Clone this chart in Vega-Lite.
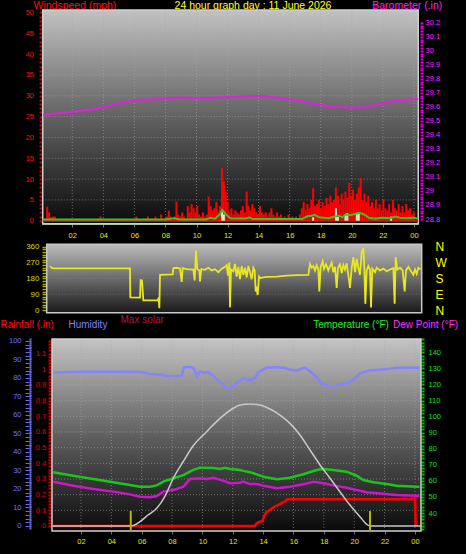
{
"$schema":"https://vega.github.io/schema/vega-lite/v6.json",
"width":466,"height":554,"autosize":{"type":"none"},"padding":0,"background":"#000000",
"config":{"view":{"stroke":null},"axis":{"labelFont":"Liberation Sans","titleFont":"Liberation Sans","grid":false,"domain":false,"labelOverlap":false,"labelFlush":false,"titleFontWeight":"normal","titleAngle":0}},
"resolve":{"scale":{"x":"independent","y":"independent"}},
"layer":[
{"layer":[
 {"data":{"values":[{}]},"mark":{"type":"rect","fill":{"gradient":"linear","x1":0,"y1":0,"x2":0,"y2":1,"stops":[{"offset":0,"color":"#c2c2c2"},{"offset":0.5,"color":"#626262"},{"offset":1,"color":"#0a0a0a"}]},"stroke":"#d0d0d0","strokeWidth":1.5},
  "encoding":{"x":{"datum":0.097,"type":"quantitative","scale":{"domain":[-2.653,27.353],"nice":false,"zero":false},"axis":null},"x2":{"datum":24.28},
   "y":{"datum":-0.79,"type":"quantitative","scale":{"domain":[-80.04,53.0],"nice":false,"zero":false},"axis":null},"y2":{"datum":50.6}}},
 {"data":{"values":[{"v":5},{"v":10},{"v":15},{"v":20},{"v":25},{"v":30},{"v":35},{"v":40},{"v":45}]},"mark":{"type":"rule","color":"#a8a8a8","strokeDash":[1,2],"strokeWidth":1,"opacity":0.6},
  "encoding":{"x":{"datum":0.097,"type":"quantitative","scale":{"domain":[-2.653,27.353],"nice":false,"zero":false},"axis":null},"x2":{"datum":24.28},"y":{"field":"v","type":"quantitative","scale":{"domain":[-80.04,53.0],"nice":false,"zero":false},"axis":null}}},
 {"data":{"values":[{"v":2},{"v":4},{"v":6},{"v":8},{"v":10},{"v":12},{"v":14},{"v":16},{"v":18},{"v":20},{"v":22},{"v":24}]},"mark":{"type":"rule","color":"#a8a8a8","strokeDash":[1,2],"strokeWidth":1,"opacity":0.6},
  "encoding":{"x":{"field":"v","type":"quantitative","scale":{"domain":[-2.653,27.353],"nice":false,"zero":false},"axis":null},"y":{"datum":-0.79,"type":"quantitative","scale":{"domain":[-80.04,53.0],"nice":false,"zero":false},"axis":null},"y2":{"datum":50.6}}},
 {"data":{"values":[{}]},"mark":{"type":"rule","color":"#ff0000","strokeWidth":2},
  "encoding":{"x":{"datum":0.1,"type":"quantitative","scale":{"domain":[-2.653,27.353],"nice":false,"zero":false},"axis":null},"x2":{"datum":24.27},"y":{"datum":0,"type":"quantitative","scale":{"domain":[-80.04,53.0],"nice":false,"zero":false},"axis":null}}},
 {"data":{"values":[{}]},"mark":{"type":"rule","color":"#b8e4a8","strokeWidth":1.5},
  "encoding":{"x":{"datum":0.097,"type":"quantitative","scale":{"domain":[-2.653,27.353],"nice":false,"zero":false},"axis":null},"x2":{"datum":24.28},"y":{"datum":-0.72,"type":"quantitative","scale":{"domain":[-80.04,53.0],"nice":false,"zero":false},"axis":null}}}
]},
{"data":{"values":[{"h":0.125,"w":3.4},{"h":0.25,"w":2},{"h":0.375,"w":0.8},{"h":0.5,"w":1},{"h":0.625,"w":1},{"h":0.75,"w":0.3},{"h":3.625,"w":1},{"h":6.0,"w":1},{"h":6.5,"w":0.5},{"h":6.75,"w":1},{"h":7.0,"w":0.5},{"h":7.25,"w":1},{"h":7.625,"w":1.5},{"h":7.875,"w":0.5},{"h":8.0,"w":1},{"h":8.125,"w":2.4},{"h":8.25,"w":1},{"h":8.5,"w":1},{"h":8.625,"w":4.6},{"h":8.75,"w":1.5},{"h":8.875,"w":1},{"h":9.0,"w":2},{"h":9.125,"w":1},{"h":9.25,"w":0.5},{"h":9.375,"w":3.5},{"h":9.5,"w":2},{"h":9.625,"w":4},{"h":9.75,"w":3},{"h":9.875,"w":2},{"h":10.0,"w":3.5},{"h":10.125,"w":1.5},{"h":10.25,"w":1},{"h":10.375,"w":2},{"h":10.5,"w":1},{"h":10.625,"w":1.5},{"h":10.75,"w":5.8},{"h":10.875,"w":3.5},{"h":11.0,"w":2.5},{"h":11.125,"w":3},{"h":11.25,"w":4.5},{"h":11.375,"w":2},{"h":11.5,"w":3.5},{"h":11.625,"w":12.7},{"h":11.75,"w":9.5},{"h":11.875,"w":7},{"h":12.0,"w":4.5},{"h":12.125,"w":2},{"h":12.25,"w":3},{"h":12.375,"w":1.5},{"h":12.5,"w":2.5},{"h":12.625,"w":2},{"h":12.75,"w":1.5},{"h":12.875,"w":2.5},{"h":13.0,"w":3.5},{"h":13.125,"w":2},{"h":13.25,"w":7},{"h":13.375,"w":3.5},{"h":13.5,"w":2.5},{"h":13.625,"w":4},{"h":13.75,"w":3},{"h":13.875,"w":2},{"h":14.0,"w":1.5},{"h":14.125,"w":3.5},{"h":14.25,"w":2},{"h":14.375,"w":1.5},{"h":14.5,"w":2},{"h":14.625,"w":1},{"h":14.75,"w":2},{"h":14.875,"w":3},{"h":15.0,"w":1.5},{"h":15.125,"w":1},{"h":15.25,"w":2},{"h":15.375,"w":1},{"h":15.5,"w":1.5},{"h":15.625,"w":0.5},{"h":15.75,"w":1},{"h":15.875,"w":0.5},{"h":16.0,"w":1.5},{"h":16.125,"w":0.5},{"h":16.25,"w":1},{"h":16.375,"w":0.5},{"h":16.5,"w":1},{"h":16.625,"w":0.5},{"h":16.75,"w":1.5},{"h":16.875,"w":3},{"h":17.0,"w":4.5},{"h":17.125,"w":2.5},{"h":17.25,"w":4},{"h":17.375,"w":3},{"h":17.5,"w":5},{"h":17.625,"w":7.8},{"h":17.75,"w":3.5},{"h":17.875,"w":4},{"h":18.0,"w":5},{"h":18.125,"w":3},{"h":18.25,"w":4.5},{"h":18.375,"w":3.5},{"h":18.5,"w":5.5},{"h":18.625,"w":4},{"h":18.75,"w":6},{"h":18.875,"w":4.5},{"h":19.0,"w":5},{"h":19.125,"w":8},{"h":19.25,"w":6},{"h":19.375,"w":4},{"h":19.5,"w":6.5},{"h":19.625,"w":5},{"h":19.75,"w":7},{"h":19.875,"w":5.5},{"h":20.0,"w":9.1},{"h":20.125,"w":6},{"h":20.25,"w":7.5},{"h":20.375,"w":5},{"h":20.5,"w":6.5},{"h":20.625,"w":8},{"h":20.75,"w":10.3},{"h":20.875,"w":5},{"h":21.0,"w":6.5},{"h":21.125,"w":4.5},{"h":21.25,"w":6},{"h":21.375,"w":3.5},{"h":21.5,"w":4.5},{"h":21.625,"w":3},{"h":21.75,"w":5},{"h":21.875,"w":3},{"h":22.0,"w":4},{"h":22.125,"w":2.5},{"h":22.25,"w":5},{"h":22.375,"w":3},{"h":22.5,"w":2.5},{"h":22.625,"w":4},{"h":22.75,"w":2},{"h":22.875,"w":5},{"h":23.0,"w":3},{"h":23.125,"w":2.5},{"h":23.25,"w":4},{"h":23.375,"w":2},{"h":23.5,"w":3.5},{"h":23.625,"w":2},{"h":23.75,"w":4},{"h":23.875,"w":2.5},{"h":24.0,"w":3},{"h":24.125,"w":1.5},{"h":24.25,"w":2}]},
 "mark":{"type":"bar","color":"#ff0000","width":2},
 "encoding":{"x":{"field":"h","type":"quantitative","scale":{"domain":[-2.653,27.353],"nice":false,"zero":false},"axis":null},"y":{"field":"w","type":"quantitative","scale":{"domain":[-80.04,53.0],"nice":false,"zero":false},"axis":null}}},
{"data":{"values":[{"h":11.625,"w":2.2},{"h":11.75,"w":1.5},{"h":17.625,"w":0.8},{"h":19.125,"w":3.0},{"h":19.25,"w":1.2},{"h":19.75,"w":1.5},{"h":19.875,"w":1.8},{"h":20.5,"w":1.9},{"h":20.625,"w":1.6},{"h":22.75,"w":1.0}]},
 "mark":{"type":"bar","color":"#dfeed6","width":2},
 "encoding":{"x":{"field":"h","type":"quantitative","scale":{"domain":[-2.653,27.353],"nice":false,"zero":false},"axis":null},"y":{"field":"w","type":"quantitative","scale":{"domain":[-80.04,53.0],"nice":false,"zero":false},"axis":null}}},
{"data":{"values":[{"h":0.1,"g":0.3},{"h":8.0,"g":0.3},{"h":8.6,"g":0.6},{"h":8.9,"g":0.3},{"h":10.6,"g":0.3},{"h":10.9,"g":0.7},{"h":11.2,"g":0.5},{"h":11.5,"g":1.5},{"h":11.65,"g":2.6},{"h":11.9,"g":1.5},{"h":12.2,"g":0.5},{"h":13.2,"g":0.5},{"h":13.4,"g":0.8},{"h":13.6,"g":0.4},{"h":16.8,"g":0.4},{"h":17.1,"g":1.0},{"h":17.4,"g":1.2},{"h":17.6,"g":1.4},{"h":17.9,"g":0.8},{"h":18.5,"g":0.6},{"h":18.9,"g":1.0},{"h":19.2,"g":1.2},{"h":19.4,"g":0.8},{"h":19.6,"g":1.5},{"h":19.9,"g":1.3},{"h":20.2,"g":1.6},{"h":20.5,"g":1.9},{"h":20.8,"g":1.5},{"h":21.1,"g":0.7},{"h":21.5,"g":0.5},{"h":22.0,"g":0.7},{"h":22.5,"g":0.6},{"h":22.8,"g":1.0},{"h":23.1,"g":0.7},{"h":23.5,"g":0.6},{"h":24.0,"g":0.7},{"h":24.25,"g":0.5}]},
 "mark":{"type":"line","color":"#20d020","strokeWidth":2},
 "encoding":{
  "x":{"field":"h","type":"quantitative","scale":{"domain":[-2.653,27.353],"nice":false,"zero":false},"axis":{"orient":"bottom","offset":-330,"values":[2,4,6,8,10,12,14,16,18,20,22,24],"labelExpr":"datum.value == 24 ? '00' : (datum.value < 10 ? '0' + datum.value : '' + datum.value)","title":null,"tickSize":3,"tickColor":"#707070","labelColor":"#e6e600","labelFontSize":7.5,"labelPadding":4.5}},
  "y":{"field":"g","type":"quantitative","scale":{"domain":[-80.04,53.0],"nice":false,"zero":false},"axis":{"orient":"left","offset":-42,"values":[0,1,2,3,4,5,6,7,8,9,10,11,12,13,14,15,16,17,18,19,20,21,22,23,24,25,26,27,28,29,30,31,32,33,34,35,36,37,38,39,40,41,42,43,44,45,46,47,48,49,50],"labelExpr":"datum.value % 5 === 0 ? datum.label : ''","tickSize":3,"tickWidth":2,"tickColor":"#c00000","labelColor":"#ff1010","labelFontSize":7.5,"labelPadding":5.5,"title":"Windspeed (mph)","titleColor":"#ff1010","titleFontSize":10.5,"titleAngle":0,"titleAlign":"left","titleBaseline":"top","titleX":-9,"titleY":0.5}}}},
{"data":{"values":[{"h":0.116,"b":29.542},{"h":1.211,"b":29.556},{"h":2.498,"b":29.570},{"h":3.786,"b":29.592},{"h":5.074,"b":29.627},{"h":6.362,"b":29.649},{"h":7.650,"b":29.656},{"h":8.937,"b":29.667},{"h":10.225,"b":29.663},{"h":11.513,"b":29.667},{"h":12.801,"b":29.674},{"h":14.089,"b":29.677},{"h":15.377,"b":29.663},{"h":16.665,"b":29.642},{"h":17.953,"b":29.613},{"h":19.240,"b":29.599},{"h":20.528,"b":29.595},{"h":21.816,"b":29.620},{"h":23.104,"b":29.645},{"h":24.266,"b":29.656}]},
 "mark":{"type":"line","color":"#e020e0","strokeWidth":2,"interpolate":"monotone"},
 "encoding":{
  "x":{"field":"h","type":"quantitative","scale":{"domain":[-2.653,27.353],"nice":false,"zero":false},"axis":{"orient":"top","offset":0,"labels":false,"ticks":false,"title":"24 hour graph day : 11 June 2026","titleColor":"#ffff20","titleFontSize":10.5,"titleAngle":0,"titleAlign":"center","titleBaseline":"top","titleX":252.5,"titleY":0.5}},
  "y":{"field":"b","type":"quantitative","scale":{"domain":[26.411,30.362],"nice":false,"zero":false},"axis":{"orient":"right","offset":-46,"values":[28.8,28.82,28.84,28.86,28.88,28.9,28.92,28.94,28.96,28.98,29,29.02,29.04,29.06,29.08,29.1,29.12,29.14,29.16,29.18,29.2,29.22,29.24,29.26,29.28,29.3,29.32,29.34,29.36,29.38,29.4,29.42,29.44,29.46,29.48,29.5,29.52,29.54,29.56,29.58,29.6,29.62,29.64,29.66,29.68,29.7,29.72,29.74,29.76,29.78,29.8,29.82,29.84,29.86,29.88,29.9,29.92,29.94,29.96,29.98,30,30.02,30.04,30.06,30.08,30.1,30.12,30.14,30.16,30.18,30.2],"labelExpr":"abs(datum.value*10 - round(datum.value*10)) < 0.01 ? toString(round(datum.value*10)/10) : ''","tickSize":3,"tickWidth":2,"tickColor":"#e000e0","labelColor":"#ff20ff","labelFontSize":7.5,"labelPadding":2,"title":"Barometer (.in)","titleColor":"#ff20ff","titleFontSize":10.5,"titleAngle":0,"titleAlign":"left","titleBaseline":"top","titleX":-48.3,"titleY":0.5}}}},
{"layer":[
 {"data":{"values":[{}]},"mark":{"type":"rect","fill":{"gradient":"linear","x1":0,"y1":0,"x2":0,"y2":1,"stops":[{"offset":0,"color":"#bcbcbc"},{"offset":1,"color":"#1a1a1a"}]},"stroke":"#c8c8c8","strokeWidth":1.5},
  "encoding":{"x":{"datum":0.354,"type":"quantitative","scale":{"domain":[-2.653,27.353],"nice":false,"zero":false},"axis":null},"x2":{"datum":24.5},
   "y":{"datum":-15.3,"type":"quantitative","scale":{"domain":[-1386.36,1761.36],"nice":false,"zero":false},"axis":null},"y2":{"datum":373.3}}},
 {"data":{"values":[{"v":90},{"v":180},{"v":270}]},"mark":{"type":"rule","color":"#909090","strokeDash":[1,2],"opacity":0.5},
  "encoding":{"x":{"datum":0.354,"type":"quantitative","scale":{"domain":[-2.653,27.353],"nice":false,"zero":false},"axis":null},"x2":{"datum":24.5},"y":{"field":"v","type":"quantitative","scale":{"domain":[-1386.36,1761.36],"nice":false,"zero":false},"axis":null}}}
]},
{"resolve":{"axis":{"y":"independent"}},
 "data":{"values":[{"h":0.567,"d":250},{"h":0.674,"d":240},{"h":0.781,"d":237},{"h":0.996,"d":237},{"h":5.718,"d":237},{"h":5.739,"d":72},{"h":6.362,"d":70},{"h":6.405,"d":170},{"h":6.491,"d":168},{"h":6.576,"d":55},{"h":7.521,"d":55},{"h":7.564,"d":72},{"h":7.607,"d":10},{"h":7.650,"d":200},{"h":8.466,"d":202},{"h":8.508,"d":238},{"h":8.723,"d":240},{"h":8.937,"d":236},{"h":9.045,"d":160},{"h":9.109,"d":238},{"h":9.367,"d":232},{"h":9.796,"d":230},{"h":9.882,"d":168},{"h":9.968,"d":338},{"h":10.053,"d":232},{"h":10.182,"d":225},{"h":10.225,"d":162},{"h":10.311,"d":232},{"h":10.547,"d":228},{"h":10.762,"d":240},{"h":10.977,"d":225},{"h":11.191,"d":232},{"h":11.406,"d":215},{"h":11.621,"d":235},{"h":11.835,"d":245},{"h":11.943,"d":255},{"h":12.028,"d":195},{"h":12.114,"d":270},{"h":12.157,"d":15},{"h":12.222,"d":230},{"h":12.372,"d":220},{"h":12.479,"d":262},{"h":12.587,"d":190},{"h":12.694,"d":245},{"h":12.801,"d":175},{"h":12.909,"d":250},{"h":13.016,"d":200},{"h":13.123,"d":240},{"h":13.231,"d":185},{"h":13.338,"d":250},{"h":13.445,"d":215},{"h":13.553,"d":175},{"h":13.660,"d":240},{"h":13.746,"d":225},{"h":13.810,"d":105},{"h":13.874,"d":120},{"h":13.939,"d":85},{"h":14.025,"d":190},{"h":14.089,"d":182},{"h":14.303,"d":185},{"h":14.518,"d":188},{"h":15.162,"d":190},{"h":15.806,"d":195},{"h":16.450,"d":198},{"h":17.201,"d":200},{"h":17.309,"d":262},{"h":17.416,"d":240},{"h":17.523,"d":250},{"h":17.630,"d":225},{"h":17.738,"d":255},{"h":17.845,"d":230},{"h":17.910,"d":105},{"h":17.995,"d":245},{"h":18.124,"d":278},{"h":18.210,"d":235},{"h":18.339,"d":260},{"h":18.489,"d":225},{"h":18.596,"d":250},{"h":18.704,"d":270},{"h":18.811,"d":215},{"h":18.918,"d":245},{"h":19.026,"d":125},{"h":19.111,"d":240},{"h":19.240,"d":260},{"h":19.348,"d":210},{"h":19.455,"d":255},{"h":19.562,"d":230},{"h":19.670,"d":265},{"h":19.777,"d":200},{"h":19.884,"d":125},{"h":19.992,"d":240},{"h":20.099,"d":300},{"h":20.206,"d":215},{"h":20.314,"d":290},{"h":20.421,"d":240},{"h":20.528,"d":200},{"h":20.636,"d":330},{"h":20.743,"d":350},{"h":20.807,"d":240},{"h":20.872,"d":35},{"h":20.958,"d":225},{"h":21.065,"d":250},{"h":21.172,"d":230},{"h":21.236,"d":15},{"h":21.322,"d":235},{"h":21.494,"d":215},{"h":21.601,"d":240},{"h":21.816,"d":225},{"h":22.031,"d":235},{"h":22.245,"d":220},{"h":22.460,"d":230},{"h":22.674,"d":238},{"h":22.760,"d":35},{"h":22.825,"d":300},{"h":22.932,"d":230},{"h":23.104,"d":240},{"h":23.275,"d":225},{"h":23.404,"d":105},{"h":23.490,"d":225},{"h":23.640,"d":245},{"h":23.855,"d":215},{"h":23.962,"d":200},{"h":24.069,"d":230},{"h":24.176,"d":205},{"h":24.284,"d":240},{"h":24.434,"d":232}]},
 "layer":[
 {"mark":{"type":"line","color":"#e8e820","strokeWidth":1.8},
  "encoding":{"x":{"field":"h","type":"quantitative","scale":{"domain":[-2.653,27.353],"nice":false,"zero":false},"axis":null},
   "y":{"field":"d","type":"quantitative","scale":{"domain":[-1386.36,1761.36],"nice":false,"zero":false},"axis":{"orient":"left","offset":-46,"values":[0,15,30,45,60,75,90,105,120,135,150,165,180,195,210,225,240,255,270,285,300,315,330,345,360],"labelExpr":"datum.value % 90 === 0 ? datum.label : ''","tickSize":4,"tickWidth":1.5,"tickColor":"#a8a800","labelColor":"#d8d800","labelFontSize":8,"labelPadding":3,"title":null}}}},
 {"mark":{"type":"line","opacity":0},
  "encoding":{"x":{"field":"h","type":"quantitative","scale":{"domain":[-2.653,27.353],"nice":false,"zero":false},"axis":null},
   "y":{"field":"d","type":"quantitative","scale":{"domain":[-1386.36,1761.36],"nice":false,"zero":false},"axis":{"orient":"right","offset":-32,"values":[0,90,180,270,360],"labelExpr":"datum.value == 270 ? 'W' : (datum.value == 180 ? 'S' : (datum.value == 90 ? 'E' : 'N'))","ticks":false,"labelColor":"#ffff00","labelFontSize":12,"labelPadding":1,"labelAlign":"left","title":null}}}}
]},
{"layer":[
 {"data":{"values":[{}]},"mark":{"type":"rect","fill":{"gradient":"linear","x1":0,"y1":0,"x2":0,"y2":1,"stops":[{"offset":0,"color":"#c4c4c4"},{"offset":0.5,"color":"#606060"},{"offset":1,"color":"#0a0a0a"}]},"stroke":"#d0d0d0","strokeWidth":1.5},
  "encoding":{"x":{"datum":0.092,"type":"quantitative","scale":{"domain":[-3.333,27.365],"nice":false,"zero":false},"axis":null},"x2":{"datum":24.40},
   "y":{"datum":-0.0319,"type":"quantitative","scale":{"domain":[-0.1787,3.3567],"nice":false,"zero":false},"axis":null},"y2":{"datum":1.193}}},
 {"data":{"values":[{"v":0.1},{"v":0.2},{"v":0.3},{"v":0.4},{"v":0.5},{"v":0.6},{"v":0.7},{"v":0.8},{"v":0.9},{"v":1.0},{"v":1.1}]},"mark":{"type":"rule","color":"#a8a8a8","strokeDash":[1,2],"opacity":0.6},
  "encoding":{"x":{"datum":0.092,"type":"quantitative","scale":{"domain":[-3.333,27.365],"nice":false,"zero":false},"axis":null},"x2":{"datum":24.40},"y":{"field":"v","type":"quantitative","scale":{"domain":[-0.1787,3.3567],"nice":false,"zero":false},"axis":null}}},
 {"data":{"values":[{"v":2},{"v":4},{"v":6},{"v":8},{"v":10},{"v":12},{"v":14},{"v":16},{"v":18},{"v":20},{"v":22},{"v":24}]},"mark":{"type":"rule","color":"#a8a8a8","strokeDash":[1,2],"opacity":0.6},
  "encoding":{"x":{"field":"v","type":"quantitative","scale":{"domain":[-3.333,27.365],"nice":false,"zero":false},"axis":null},"y":{"datum":-0.0319,"type":"quantitative","scale":{"domain":[-0.1787,3.3567],"nice":false,"zero":false},"axis":null},"y2":{"datum":1.193}}}
]},
{"resolve":{"axis":{"y":"independent"}},
 "data":{"values":[{"h":0.18,"hm":83},{"h":1.5,"hm":83.3},{"h":3,"hm":83.4},{"h":4.5,"hm":83.4},{"h":5.89,"hm":83.3},{"h":6.2,"hm":82.8},{"h":6.55,"hm":82.2},{"h":7.2,"hm":81.8},{"h":7.65,"hm":81.2},{"h":8.3,"hm":81},{"h":8.64,"hm":81.2},{"h":8.79,"hm":85.8},{"h":9.1,"hm":86},{"h":9.4,"hm":85.5},{"h":9.55,"hm":83},{"h":9.62,"hm":81},{"h":9.75,"hm":82.5},{"h":9.84,"hm":83.4},{"h":10.1,"hm":82.8},{"h":10.28,"hm":83.2},{"h":10.6,"hm":82},{"h":10.94,"hm":79.5},{"h":11.3,"hm":77},{"h":11.6,"hm":74.5},{"h":11.82,"hm":74.2},{"h":12.04,"hm":76},{"h":12.26,"hm":77.2},{"h":12.48,"hm":78.5},{"h":12.69,"hm":79.8},{"h":12.9,"hm":79.2},{"h":13.14,"hm":78.8},{"h":13.47,"hm":80},{"h":13.68,"hm":83},{"h":14.0,"hm":84.5},{"h":14.24,"hm":85.5},{"h":14.8,"hm":85.8},{"h":15.33,"hm":85.6},{"h":15.8,"hm":84.5},{"h":16.21,"hm":84},{"h":16.5,"hm":85},{"h":16.76,"hm":85.6},{"h":17.1,"hm":83.5},{"h":17.53,"hm":80.5},{"h":17.75,"hm":78},{"h":17.96,"hm":76.8},{"h":18.3,"hm":75.5},{"h":18.62,"hm":75},{"h":19.0,"hm":76.5},{"h":19.51,"hm":77},{"h":19.94,"hm":79},{"h":20.2,"hm":81},{"h":20.38,"hm":82.5},{"h":21.0,"hm":84},{"h":21.7,"hm":84.5},{"h":22.2,"hm":84.8},{"h":22.8,"hm":85.5},{"h":23.5,"hm":85.6},{"h":24.3,"hm":85.6}]},
 "layer":[
 {"mark":{"type":"line","color":"#8484ff","strokeWidth":2.5},
  "encoding":{"x":{"field":"h","type":"quantitative","scale":{"domain":[-3.333,27.365],"nice":false,"zero":false},"axis":null},
   "y":{"field":"hm","type":"quantitative","scale":{"domain":[-15.135,284.32],"nice":false,"zero":false},"axis":{"orient":"left","offset":-29,"values":[0,2,4,6,8,10,12,14,16,18,20,22,24,26,28,30,32,34,36,38,40,42,44,46,48,50,52,54,56,58,60,62,64,66,68,70,72,74,76,78,80,82,84,86,88,90,92,94,96,98,100],"labelExpr":"datum.value % 10 === 0 ? datum.label : ''","tickSize":4,"tickWidth":1,"tickColor":"#6868f0","labelColor":"#7070ff","labelFontSize":7.5,"labelPadding":4,"title":"Humidity","titleColor":"#8080ff","titleFontSize":10,"titleAngle":0,"titleAlign":"left","titleBaseline":"top","titleX":39,"titleY":319.5}}}},
 {"mark":{"type":"line","opacity":0},
  "encoding":{"x":{"field":"h","type":"quantitative","scale":{"domain":[-3.333,27.365],"nice":false,"zero":false},"axis":null},
   "y":{"field":"hm","type":"quantitative","scale":{"domain":[-15.135,284.32],"nice":false,"zero":false},"axis":{"orient":"left","offset":-31,"values":[-1,0,1,2,3,4,5,6,7,8,9,10,11,12,13,14,15,16,17,18,19,20,21,22,23,24,25,26,27,28,29,30,31,32,33,34,35,36,37,38,39,40,41,42,43,44,45,46,47,48,49,50,51,52,53,54,55,56,57,58,59,60,61,62,63,64,65,66,67,68,69,70,71,72,73,74,75,76,77,78,79,80,81,82,83,84,85,86,87,88,89,90,91,92,93,94,95,96,97,98,99,100,101],"labels":false,"tickSize":2,"tickWidth":2,"tickColor":"#6868f0","title":null}}}}
]},
{"data":{"values":[{"h":0.18,"t":65.3},{"h":1.5,"t":63.2},{"h":2.81,"t":61.2},{"h":4.13,"t":59.1},{"h":5.23,"t":57.4},{"h":5.89,"t":56.4},{"h":6.55,"t":56.4},{"h":6.99,"t":57.2},{"h":7.43,"t":59.5},{"h":8.09,"t":61.6},{"h":8.75,"t":63.6},{"h":9.4,"t":66.8},{"h":9.84,"t":68.2},{"h":10.72,"t":68},{"h":11.16,"t":67.4},{"h":11.49,"t":68.2},{"h":11.82,"t":67.4},{"h":12.48,"t":66.8},{"h":12.69,"t":66.2},{"h":13.14,"t":65.4},{"h":14.02,"t":62.6},{"h":14.9,"t":61},{"h":15.77,"t":62},{"h":16.65,"t":64.1},{"h":17.53,"t":66.8},{"h":17.96,"t":67.4},{"h":18.62,"t":66.8},{"h":19.5,"t":65.7},{"h":20.16,"t":63.2},{"h":20.6,"t":60.5},{"h":21.26,"t":59.1},{"h":22.14,"t":58},{"h":22.8,"t":57},{"h":24.12,"t":56.4},{"h":24.3,"t":56.4}]},
 "mark":{"type":"line","color":"#18c818","strokeWidth":2.5},
 "encoding":{"x":{"field":"h","type":"quantitative","scale":{"domain":[-3.333,27.365],"nice":false,"zero":false},"axis":null},
  "y":{"field":"t","type":"quantitative","scale":{"domain":[14.49,359.23],"nice":false,"zero":false},"axis":{"orient":"right","offset":-45,"values":[30,32,34,36,38,40,42,44,46,48,50,52,54,56,58,60,62,64,66,68,70,72,74,76,78,80,82,84,86,88,90,92,94,96,98,100,102,104,106,108,110,112,114,116,118,120,122,124,126,128,130,132,134,136,138,140,142,144,146,148],"labelExpr":"(datum.value % 10 === 0 && datum.value >= 40 && datum.value <= 140) ? datum.label : ''","tickSize":3,"tickWidth":2,"tickColor":"#00c000","labelColor":"#10e010","labelFontSize":7.5,"labelPadding":4,"title":"Temperature (°F)","titleColor":"#20f020","titleFontSize":10,"titleAngle":0,"titleAlign":"left","titleBaseline":"top","titleX":-108.3,"titleY":319.5}}}},
{"data":{"values":[{"h":0.18,"t":59.5},{"h":1.5,"t":57},{"h":2.81,"t":54.9},{"h":4.13,"t":53.3},{"h":5.23,"t":51.6},{"h":5.89,"t":50.1},{"h":6.55,"t":49.8},{"h":6.99,"t":50.6},{"h":7.43,"t":53.3},{"h":8.09,"t":54.3},{"h":8.75,"t":56.4},{"h":9.18,"t":61.2},{"h":9.84,"t":61.6},{"h":10.28,"t":61.2},{"h":10.72,"t":61.9},{"h":11.16,"t":60.8},{"h":11.82,"t":58.5},{"h":12.48,"t":58.8},{"h":12.69,"t":59.5},{"h":13.14,"t":58},{"h":13.58,"t":58},{"h":14.02,"t":57},{"h":14.9,"t":55.4},{"h":15.77,"t":56.4},{"h":16.65,"t":57.9},{"h":17.31,"t":59.5},{"h":17.96,"t":58.5},{"h":18.62,"t":57.2},{"h":19.5,"t":55.7},{"h":20.16,"t":54.3},{"h":20.82,"t":52.9},{"h":21.7,"t":52.2},{"h":22.8,"t":51.2},{"h":24.12,"t":50.8},{"h":24.3,"t":50.8}]},
 "mark":{"type":"line","color":"#c818c8","strokeWidth":2.5},
 "encoding":{"x":{"field":"h","type":"quantitative","scale":{"domain":[-3.333,27.365],"nice":false,"zero":false},"axis":null},
  "y":{"field":"t","type":"quantitative","scale":{"domain":[14.49,359.23],"nice":false,"zero":false},"axis":{"orient":"right","offset":-45,"labels":false,"ticks":false,"title":"Dew Point (°F)","titleColor":"#ff30ff","titleFontSize":10,"titleAngle":0,"titleAlign":"left","titleBaseline":"top","titleX":-28.5,"titleY":319.5}}}},
{"data":{"values":[{"h":0.1,"r":0},{"h":13.45,"r":0},{"h":13.55,"r":0.015},{"h":13.7,"r":0.025},{"h":13.95,"r":0.03},{"h":14.05,"r":0.06},{"h":14.2,"r":0.085},{"h":14.35,"r":0.095},{"h":14.55,"r":0.11},{"h":14.7,"r":0.12},{"h":14.9,"r":0.13},{"h":15.1,"r":0.14},{"h":15.3,"r":0.15},{"h":15.5,"r":0.16},{"h":15.6,"r":0.17},{"h":24.02,"r":0.17},{"h":24.05,"r":0}]},
 "mark":{"type":"line","color":"#ff0000","strokeWidth":2.5},
 "encoding":{"x":{"field":"h","type":"quantitative","scale":{"domain":[-3.333,27.365],"nice":false,"zero":false},"axis":{"orient":"bottom","offset":-23,"values":[2,4,6,8,10,12,14,16,18,20,22,24],"labelExpr":"datum.value == 24 ? '00' : (datum.value < 10 ? '0' + datum.value : '' + datum.value)","title":null,"tickSize":3,"tickColor":"#707070","labelColor":"#e6e600","labelFontSize":7.5,"labelPadding":3.5}},
  "y":{"field":"r","type":"quantitative","scale":{"domain":[-0.1787,3.3567],"nice":false,"zero":false},"axis":{"orient":"left","offset":-51,"values":[0,0.02,0.04,0.06,0.08,0.1,0.12,0.14,0.16,0.18,0.2,0.22,0.24,0.26,0.28,0.3,0.32,0.34,0.36,0.38,0.4,0.42,0.44,0.46,0.48,0.5,0.52,0.54,0.56,0.58,0.6,0.62,0.64,0.66,0.68,0.7,0.72,0.74,0.76,0.78,0.8,0.82,0.84,0.86,0.88,0.9,0.92,0.94,0.96,0.98,1,1.02,1.04,1.06,1.08,1.1,1.12,1.14,1.16,1.18],"labelExpr":"abs(datum.value*10 - round(datum.value*10)) < 0.01 ? toString(round(datum.value*10)/10) : ''","tickSize":3,"tickWidth":2,"tickColor":"#d00000","labelColor":"#e00000","labelFontSize":7.5,"labelPadding":2.3,"title":"Rainfall (.in)","titleColor":"#ff1010","titleFontSize":10,"titleAngle":0,"titleAlign":"left","titleBaseline":"top","titleX":-51,"titleY":319.5}}}},
{"data":{"values":[{"h":0.092,"s":0},{"h":5.28,"s":0},{"h":5.89,"s":34},{"h":6.42,"s":86},{"h":6.99,"s":138},{"h":7.54,"s":234},{"h":8.08,"s":373},{"h":8.72,"s":500},{"h":9.38,"s":625},{"h":10.28,"s":737},{"h":11.16,"s":841},{"h":12.04,"s":920},{"h":12.48,"s":945},{"h":13.14,"s":953},{"h":13.79,"s":945},{"h":14.45,"s":914},{"h":15.11,"s":867},{"h":15.77,"s":802},{"h":16.43,"s":711},{"h":17.09,"s":594},{"h":17.75,"s":477},{"h":18.41,"s":373},{"h":19.06,"s":268},{"h":19.72,"s":164},{"h":20.38,"s":73},{"h":20.82,"s":13},{"h":21.04,"s":0},{"h":24.4,"s":0}]},
 "mark":{"type":"line","color":"#c8c8c8","strokeWidth":1.5,"interpolate":"monotone"},
 "encoding":{"x":{"field":"h","type":"quantitative","scale":{"domain":[-3.333,27.365],"nice":false,"zero":false},"axis":null},
  "y":{"field":"s","type":"quantitative","scale":{"domain":[-218.75,4109.4],"nice":false,"zero":false},"axis":{"orient":"left","offset":0,"labels":false,"ticks":false,"title":"Max solar","titleColor":"#b01840","titleFontSize":10,"titleAngle":0,"titleAlign":"left","titleBaseline":"top","titleX":120,"titleY":314}}}},
{"data":{"values":[{"h":5.28},{"h":21.04}]},"mark":{"type":"rule","color":"#b8b800","strokeWidth":2},
 "encoding":{"x":{"field":"h","type":"quantitative","scale":{"domain":[-3.333,27.365],"nice":false,"zero":false},"axis":null},"y":{"datum":-31,"type":"quantitative","scale":{"domain":[-218.75,4109.4],"nice":false,"zero":false},"axis":null},"y2":{"datum":117}}}
]
}
